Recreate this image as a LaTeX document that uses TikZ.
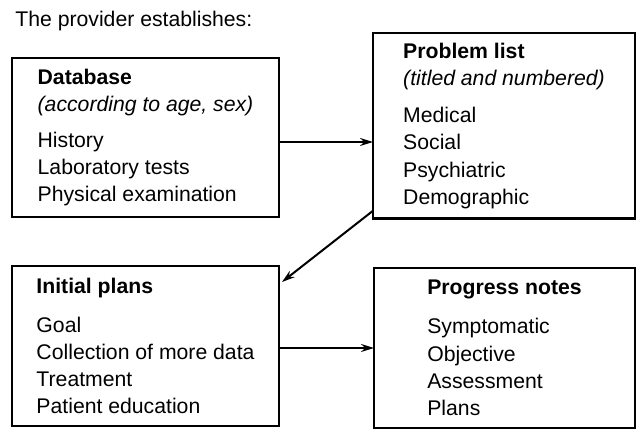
\documentclass[tikz,border=0pt]{standalone}
\usepackage{fontspec}
\setmainfont{Liberation Sans}
\usetikzlibrary{positioning,arrows.meta}

\tikzset{
  recbox/.style={draw, rectangle, line width=1.3pt, align=left, anchor=north west, outer sep=0pt, inner ysep=5pt},
  flow/.style={->, line width=1pt},
}

\begin{document}
\begin{tikzpicture}[x=0.5pt, y=-0.5pt, >={Stealth[length=6.5pt,width=4pt]}, font=\fontsize{10.6}{13.6}\selectfont]

\useasboundingbox (0,0) rectangle (638,432);

% Heading
\node[anchor=base west, inner sep=0pt] (head) at (15,27) {The provider establishes:};

% Boxes
\node[recbox, minimum width=133.5pt, minimum height=79.5pt] (db) at (12,58)
  {\textbf{Database}\\\textit{(according to age, sex)}\\[4.5pt]History\\Laboratory tests\\Physical examination};
\node[recbox, minimum width=131pt, minimum height=92pt] (pl) at (373,33)
  {\textbf{Problem list}\\\textit{(titled and numbered)}\\[5pt]Medical\\Social\\Psychiatric\\Demographic};
\node[recbox, minimum width=133.5pt, minimum height=80pt] (ip) at (12,266)
  {\textbf{Initial plans}\\[6pt]Goal\\Collection of more data\\Treatment\\Patient education};
\node[recbox, minimum width=130.5pt, minimum height=80pt] (pn) at (374,268)
  {\textbf{Progress notes}\\[6pt]Symptomatic\\Objective\\Assessment\\Plans};

% Arrows
\draw[flow] ([yshift=-2.25pt]db.east) -- ([yshift=-2.25pt]db.east -| pl.west);
\draw[flow] ([yshift=4pt]pl.south west) -- ([xshift=1.5pt,yshift=-8pt]ip.north east);
\draw[flow] ([yshift=-1pt]ip.east) -- ([yshift=-1pt]ip.east -| pn.west);

\end{tikzpicture}
\end{document}
